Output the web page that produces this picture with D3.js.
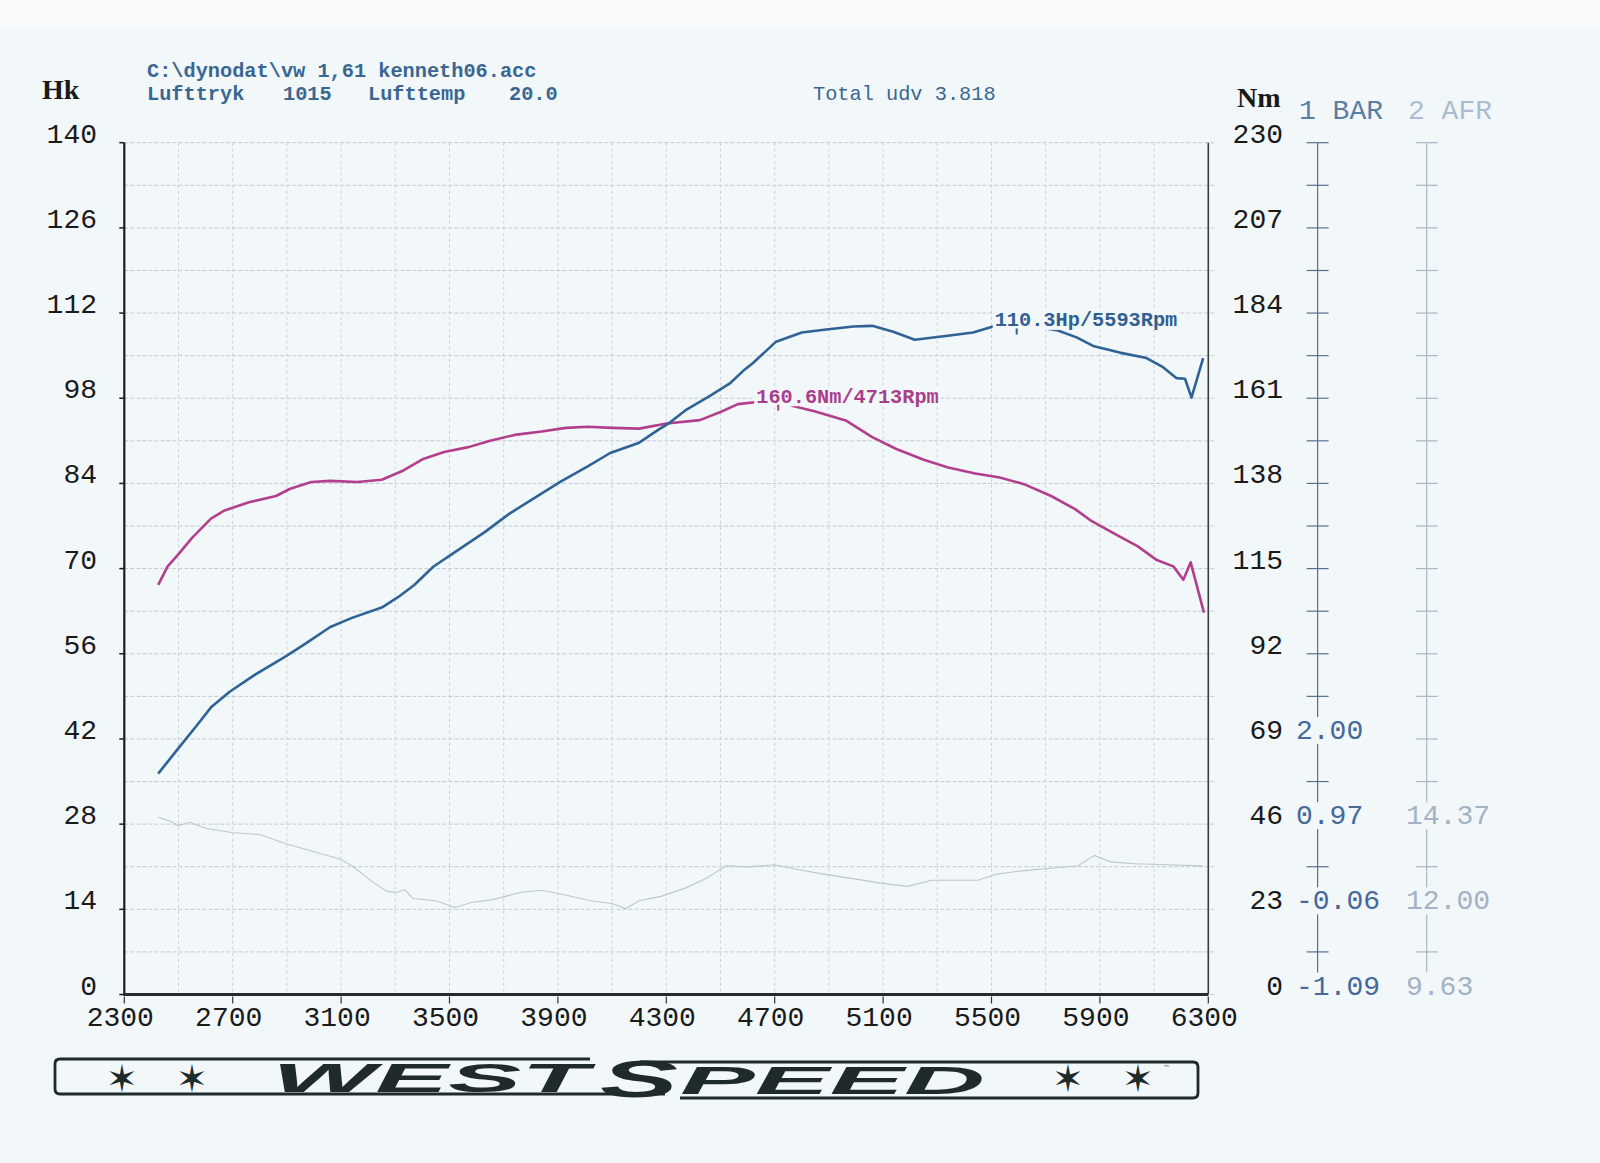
<!DOCTYPE html>
<html><head><meta charset="utf-8">
<script src="https://cdn.jsdelivr.net/npm/d3@7"></script>
<style>
html,body{margin:0;padding:0;background:#f1f6f8;}
svg{display:block;}
</style></head>
<body>
<svg id="chart" width="1600" height="1163"></svg>
<script>
// ---------- DATA ----------
const rpmTicks = [2300,2700,3100,3500,3900,4300,4700,5100,5500,5900,6300];
const hkTicks  = [0,14,28,42,56,70,84,98,112,126,140];
const nmTicks  = [0,23,46,69,92,115,138,161,184,207,230];
const barLabels = ["-1.09","-0.06","0.97","2.00"];
const afrLabels = ["9.63","12.00","14.37"];

const powerRpm = [2425,2500,2560,2620,2690,2780,2900,2970,3060,3140,3250,3310,3370,3440,3520,3630,3720,3820,3910,4010,4093,4200,4270,4313,4370,4461,4536,4584,4620,4705,4800,4890,4990,5060,5140,5217,5346,5432,5506,5593,5740,5814,5875,5973,6072,6133,6183,6214,6238,6281];
const powerHp  = [36.3,40.5,43.8,47.2,49.8,52.5,55.7,57.7,60.4,61.9,63.6,65.3,67.3,70.3,72.7,76.0,79.0,81.8,84.3,86.8,89.0,90.7,92.8,94.0,96.0,98.4,100.5,102.5,103.8,107.3,108.8,109.3,109.8,109.9,108.9,107.6,108.3,108.8,109.8,110.3,109.2,108.0,106.6,105.5,104.6,103.1,101.3,101.2,98.1,104.6];

const torqueRpm = [2425,2460,2500,2550,2620,2670,2760,2860,2910,2990,3060,3160,3250,3330,3400,3480,3570,3650,3740,3840,3930,4010,4100,4200,4301,4424,4500,4564,4713,4768,4850,4965,5060,5149,5250,5340,5440,5530,5620,5720,5810,5870,5960,6040,6110,6171,6208,6235,6284];
const torqueNm  = [110.6,115.6,118.9,123.3,128.5,130.7,132.9,134.6,136.5,138.4,138.7,138.4,139.0,141.5,144.5,146.5,147.8,149.5,151.1,152.0,153.0,153.3,153.0,152.8,154.2,155.1,157.3,159.4,160.6,158.9,157.4,154.9,150.5,147.3,144.4,142.3,140.7,139.6,137.8,134.6,131.0,127.8,124.2,121.0,117.3,115.6,112.0,116.7,103.1];

const afrRpm = [2425,2470,2499,2542,2603,2702,2800,2899,2997,3095,3144,3218,3270,3305,3335,3365,3450,3520,3580,3660,3760,3840,3920,4020,4100,4150,4200,4280,4370,4450,4520,4600,4700,4790,4880,5000,5090,5190,5280,5380,5450,5520,5610,5730,5820,5880,5940,6030,6150,6280];
const afrVal = [14.56,14.45,14.33,14.42,14.25,14.13,14.08,13.82,13.61,13.40,13.19,12.75,12.50,12.47,12.55,12.30,12.24,12.05,12.19,12.27,12.47,12.53,12.41,12.24,12.16,12.02,12.24,12.36,12.59,12.87,13.21,13.18,13.24,13.10,12.98,12.84,12.73,12.64,12.81,12.81,12.81,12.98,13.07,13.15,13.21,13.50,13.32,13.27,13.24,13.21];

const peakPower = {rpm:5593, val:110.3, label:"110.3Hp/5593Rpm"};
const peakTorque = {rpm:4713, val:160.6, label:"160.6Nm/4713Rpm"};

// ---------- LAYOUT ----------
const BG = "#f2f7f9";
const L = 124.3, R = 1208.3, T = 142.7, B = 994.5;
const svg = d3.select("#chart");
svg.append("rect").attr("width",1600).attr("height",1163).attr("fill",BG);
svg.append("rect").attr("width",1600).attr("height",29).attr("fill","#f7f9fa");

const x = d3.scaleLinear().domain([2300,6300]).range([L,R]);
const yHk = d3.scaleLinear().domain([0,140]).range([B,T]);
const yNm = d3.scaleLinear().domain([0,230]).range([B,T]);
const yAfr = d3.scaleLinear().domain([9.63, 9.63+10*2.37]).range([B,T]);

const mono = "'Liberation Mono', 'DejaVu Sans Mono', monospace";

// ---------- GRID ----------
const grid = svg.append("g");
grid.selectAll("line.h").data(d3.range(0,141,7)).join("line")
  .attr("x1",L).attr("x2",R+7).attr("y1",d=>yHk(d)).attr("y2",d=>yHk(d))
  .attr("stroke","#c2cbd2").attr("stroke-width",1).attr("stroke-dasharray","4,2");
grid.selectAll("line.v").data(d3.range(2500,6300,200)).join("line")
  .attr("x1",d=>x(d)).attr("x2",d=>x(d)).attr("y1",T).attr("y2",B)
  .attr("stroke","#cad2d8").attr("stroke-width",1).attr("stroke-dasharray","3,3");

// ---------- CURVES ----------
const line = d3.line().curve(d3.curveLinear);
svg.append("path")
  .attr("d", line(afrRpm.map((r,i)=>[x(r), yAfr(afrVal[i])])))
  .attr("fill","none").attr("stroke","#bcc6d3").attr("stroke-width",1.1);
svg.append("path")
  .attr("d", line(torqueRpm.map((r,i)=>[x(r), yNm(torqueNm[i])])))
  .attr("fill","none").attr("stroke","#b23f8d").attr("stroke-width",2.6).attr("stroke-linejoin","round");
svg.append("path")
  .attr("d", line(powerRpm.map((r,i)=>[x(r), yHk(powerHp[i])])))
  .attr("fill","none").attr("stroke","#2f6395").attr("stroke-width",2.6).attr("stroke-linejoin","round");

// ---------- PEAK LABELS ----------
function peakLabel(p, yScale, color){
  const px = x(p.rpm), py = yScale(p.val);
  const g = svg.append("g");
  const tx = px - 22, base = py + 3;
  g.append("rect").attr("x",tx-2).attr("y",base-16).attr("width",186).attr("height",19.5).attr("fill",BG);
  g.append("text").attr("x",tx).attr("y",base)
    .attr("font-family",mono).attr("font-weight","bold").attr("font-size",20.3)
    .attr("fill",color).text(p.label);
  g.append("line").attr("x1",px).attr("x2",px).attr("y1",base+2).attr("y2",base+8)
    .attr("stroke",color).attr("stroke-width",2);
}
peakLabel(peakPower, yHk, "#2f6090");
peakLabel(peakTorque, yNm, "#a83f8b");

// ---------- AXES ----------
svg.append("line").attr("x1",L).attr("x2",L).attr("y1",T).attr("y2",B).attr("stroke","#1c1c1c").attr("stroke-width",2.2);
svg.selectAll("line.lt").data(hkTicks).join("line")
  .attr("x1",L-5).attr("x2",L).attr("y1",d=>yHk(d)).attr("y2",d=>yHk(d)).attr("stroke","#1c1c1c").attr("stroke-width",1.5);
svg.selectAll("text.hk").data(hkTicks).join("text")
  .attr("x",97).attr("y",d=>yHk(d)).attr("text-anchor","end")
  .attr("font-family",mono).attr("font-size",28).attr("fill","#1a1a1a").text(d=>d);
svg.append("line").attr("x1",R).attr("x2",R).attr("y1",T).attr("y2",B).attr("stroke","#3a3a3a").attr("stroke-width",1.6);
svg.append("line").attr("x1",L-1).attr("x2",R).attr("y1",B).attr("y2",B).attr("stroke","#2a2a2a").attr("stroke-width",3.2);
svg.selectAll("line.bt").data(rpmTicks).join("line")
  .attr("x1",d=>x(d)).attr("x2",d=>x(d)).attr("y1",B+2).attr("y2",B+9).attr("stroke","#333").attr("stroke-width",1.2);
svg.selectAll("text.rpm").data(rpmTicks).join("text")
  .attr("x",d=>x(d)-4).attr("y",1026).attr("text-anchor","middle")
  .attr("font-family",mono).attr("font-size",28).attr("fill","#1a1a1a").text(d=>d);
svg.selectAll("text.nm").data(nmTicks).join("text")
  .attr("x",1283).attr("y",d=>yNm(d)).attr("text-anchor","end")
  .attr("font-family",mono).attr("font-size",28).attr("fill","#1a1a1a").text(d=>d);

function sideAxis(ax, color, labels, lcolor, lx){
  const g = svg.append("g");
  g.append("line").attr("x1",ax).attr("x2",ax).attr("y1",T).attr("y2",B-4).attr("stroke",color).attr("stroke-width",1.2);
  g.selectAll("line.tk").data(d3.range(0,231,11.5)).join("line")
    .attr("x1",ax-11).attr("x2",ax+11).attr("y1",d=>yNm(d)).attr("y2",d=>yNm(d))
    .attr("stroke",color).attr("stroke-width",1.2);
  const lg = g.selectAll("g.lab").data(labels).join("g");
  lg.append("rect").attr("x",lx-4).attr("y",(d,i)=>yNm(nmTicks[i])-22).attr("width",d=>d.length*16.8+6).attr("height",27).attr("fill",BG);
  lg.append("text").attr("x",lx).attr("y",(d,i)=>yNm(nmTicks[i]))
    .attr("font-family",mono).attr("font-size",28).attr("fill",lcolor).text(d=>d);
}
sideAxis(1317.6, "#55708e", barLabels, "#45699a", 1296);
sideAxis(1426.7, "#a9b7c6", afrLabels, "#a2b3c6", 1406);

svg.append("text").attr("x",1299).attr("y",119).attr("font-family",mono).attr("font-size",28).attr("fill","#5a7ea6").text("1 BAR");
svg.append("text").attr("x",1408).attr("y",119).attr("font-family",mono).attr("font-size",28).attr("fill","#a9bcd0").text("2 AFR");
svg.append("text").attr("x",42).attr("y",99).attr("font-family","'Liberation Serif', serif").attr("font-weight","bold").attr("font-size",28).attr("fill","#1a1a1a").text("Hk");
svg.append("text").attr("x",1237).attr("y",107).attr("font-family","'Liberation Serif', serif").attr("font-weight","bold").attr("font-size",28).attr("fill","#1a1a1a").text("Nm");

function htext(tx,ty,s,w){
  svg.append("text").attr("x",tx).attr("y",ty).attr("font-family",mono).attr("font-weight",w||"bold")
    .attr("font-size",20.3).attr("fill","#3a6791").text(s);
}
htext(147,77,"C:\\dynodat\\vw 1,61 kenneth06.acc");
htext(147,100,"Lufttryk");
htext(283,100,"1015");
htext(368,100,"Lufttemp");
htext(509,100,"20.0");
htext(813,100,"Total udv 3.818","normal");

// ---------- LOGO ----------
const logo = svg.append("g").attr("fill","none").attr("stroke","#1f2a2a").attr("stroke-width",2.8);
logo.append("path").attr("d","M590,1059 L60,1059 Q55,1059 55,1064 L55,1089 Q55,1094 60,1094 L665,1094");
logo.append("path").attr("d","M640,1062 L1193,1062 Q1198,1062 1198,1067 L1198,1093 Q1198,1098 1193,1098 L680,1098");
const lt = svg.append("g").attr("fill","#1f2a2a");
lt.append("text").attr("x",272).attr("y",1092).attr("font-family","'Liberation Sans', sans-serif").attr("font-weight","bold").attr("font-style","italic")
  .attr("font-size",40).attr("textLength",316).attr("lengthAdjust","spacingAndGlyphs").text("WEST");
lt.append("text").attr("x",600).attr("y",1097).attr("font-family","'Liberation Sans', sans-serif").attr("font-weight","bold").attr("font-style","italic")
  .attr("font-size",52).attr("textLength",78).attr("lengthAdjust","spacingAndGlyphs").text("S");
lt.append("text").attr("x",680).attr("y",1094).attr("font-family","'Liberation Sans', sans-serif").attr("font-weight","bold").attr("font-style","italic")
  .attr("font-size",38).attr("textLength",305).attr("lengthAdjust","spacingAndGlyphs").text("PEED");
[122,192,1068,1138].forEach(sx=>{
  lt.append("text").attr("x",sx).attr("y",1092).attr("text-anchor","middle").attr("font-family","'DejaVu Sans'").attr("font-size",38).text("\u2736");
});
lt.append("text").attr("x",1163).attr("y",1070).attr("font-family","'DejaVu Sans'").attr("font-size",7).attr("fill","#666").text("\u2122");
</script>
</body></html>
